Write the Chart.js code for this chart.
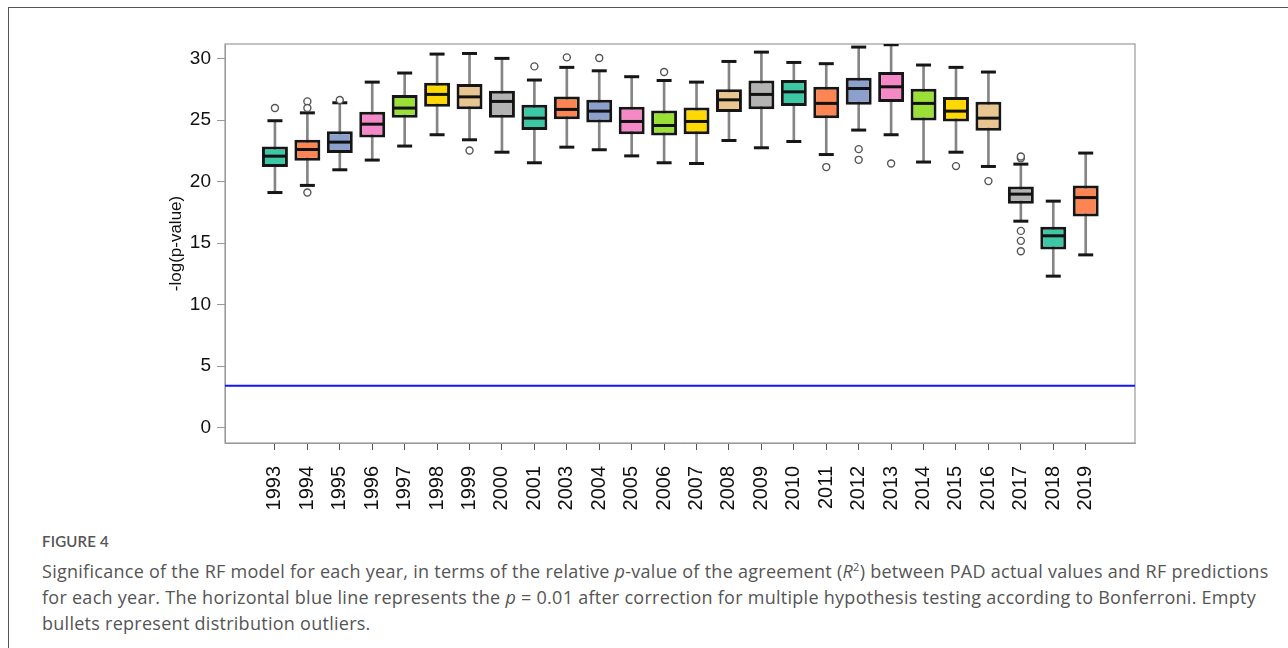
<!DOCTYPE html>
<html>
<head>
<meta charset="utf-8">
<script src="https://cdn.jsdelivr.net/npm/chart.js@4.4.1/dist/chart.umd.min.js"></script>
<style>
  body { margin: 0; background: #fff; width: 1288px; height: 648px; overflow: hidden; position: relative; }
  #frame { position: absolute; left: 8px; top: 7px; width: 1400px; height: 700px; border: 1px solid #555; }
  #wrap { position: absolute; left: 0; top: 0; width: 1288px; height: 530px; }
  .fig { position: absolute; left: 42px; top: 532px; font: 600 15px Lato, sans-serif; color: #555; letter-spacing: 0.2px; }
  .cap { position: absolute; left: 42px; top: 554px; font: 18px/26px 'Open Sans', sans-serif; color: #555; white-space: nowrap; letter-spacing: 0.27px; }
</style>
</head>
<body>
<div id="frame"></div>
<div id="wrap"><canvas id="boxChart"></canvas></div>
<div class="fig">FIGURE 4</div>
<div class="cap">Significance of the RF model for each year, in terms of the relative <i>p</i>-value of the agreement (<i>R</i><sup style="font-size:11px">2</sup>) between PAD actual values and RF predictions<br>for each year. The horizontal blue line represents the <i>p</i> = 0.01 after correction for multiple hypothesis testing according to Bonferroni. Empty<br>bullets represent distribution outliers.</div>
<script>
const years = ["1993", "1994", "1995", "1996", "1997", "1998", "1999", "2000", "2001", "2003", "2004", "2005", "2006",
    "2007", "2008", "2009", "2010", "2011", "2012", "2013", "2014", "2015", "2016", "2017", "2018", "2019"];
const whiskerLow = [19.12, 19.7, 20.97, 21.76, 22.9, 23.82, 23.41, 22.4, 21.54, 22.81, 22.6, 22.1, 21.54,
    21.48, 23.35, 22.76, 23.27, 22.21, 24.2, 23.82, 21.6, 22.4, 21.24, 16.79, 12.32, 14.05];
const q1 = [21.19, 21.7, 22.33, 23.6, 25.2, 26.1, 25.9, 25.2, 24.2, 25.09, 24.82, 23.87, 23.76,
    23.87, 25.66, 25.9, 26.15, 25.17, 26.26, 26.48, 24.98, 24.9, 24.14, 18.2, 14.48, 17.17];
const median = [22.08, 22.62, 23.22, 24.68, 25.99, 27.1, 26.9, 26.53, 25.17, 25.88, 25.74, 24.9, 24.57,
    24.9, 26.66, 27.1, 27.31, 26.37, 27.58, 27.72, 26.37, 25.74, 25.17, 18.99, 15.6, 18.71];
const q3 = [22.86, 23.41, 24.11, 25.69, 27.05, 28.05, 27.94, 27.4, 26.26, 26.94, 26.66, 26.1, 25.79,
    26.04, 27.53, 28.23, 28.27, 27.72, 28.45, 28.92, 27.56, 26.88, 26.5, 19.61, 16.33, 19.69];
const whiskerHigh = [24.96, 25.6, 26.42, 28.1, 28.84, 30.38, 30.43, 30.03, 28.27, 29.3, 29.02, 28.54, 28.23,
    28.1, 29.78, 30.54, 29.7, 29.6, 30.95, 31.14, 29.49, 29.3, 28.92, 21.43, 18.42, 22.33];
const outlierYears = ["1993", "1994", "1994", "1994", "1995", "1999", "2001", "2003", "2004", "2006", "2011",
    "2012", "2012", "2013", "2015", "2016", "2017", "2017", "2017", "2017", "2017"];
const outlierValues = [26.0, 26.53, 25.99, 19.12, 26.64, 22.54, 29.38, 30.11, 30.06, 28.92, 21.19,
    22.65, 21.78, 21.48, 21.27, 20.05, 21.9, 22.05, 16.0, 15.19, 14.35];
const threshold = 3.41;
const yTicks = [0, 5, 10, 15, 20, 25, 30];
const palette = ["#3cc8a4", "#fd8453", "#8ba0cd", "#f589c8", "#9ae037", "#ffd800", "#e9c690", "#b3b3b3"];

const X_MIN = -1.54, X_MAX = 26.52;
const Y_MIN = -1.25, Y_MAX = 31.2;
const axisFont = "'Liberation Sans', Arial, sans-serif";

const plotFrame = {
    id: "plotFrame",
    beforeDatasetsDraw(chart) {
        const a = chart.chartArea;
        const c = chart.ctx;
        c.save();
        c.strokeStyle = "#9a9a9a";
        c.lineWidth = 1.2;
        c.strokeRect(a.left, a.top, a.right - a.left, a.bottom - a.top);
        c.restore();
    }
};

document.addEventListener("DOMContentLoaded", function () {
    const area = document.getElementById("boxChart");
    const idx = years.map((_, i) => i);
    const capPoints = [];
    idx.forEach(i => {
        capPoints.push({ x: i, y: whiskerLow[i] });
        capPoints.push({ x: i, y: whiskerHigh[i] });
    });

    new Chart(area.getContext("2d"), {
        type: "bar",
        data: {
            datasets: [
                {
                    label: "whisker",
                    data: idx.map(i => ({ x: i, y: [whiskerLow[i], whiskerHigh[i]] })),
                    backgroundColor: "#858585",
                    barThickness: 2,
                    grouped: false,
                    order: 4,
                },
                {
                    label: "box",
                    data: idx.map(i => ({ x: i, y: [q1[i], q3[i]] })),
                    backgroundColor: idx.map(i => palette[i % palette.length]),
                    borderColor: "#161616",
                    borderWidth: 3,
                    borderSkipped: false,
                    categoryPercentage: 0.8,
                    barPercentage: 1,
                    grouped: false,
                    order: 3,
                },
                {
                    type: "line",
                    label: "caps",
                    data: capPoints,
                    showLine: false,
                    pointStyle: "line",
                    pointRadius: 7.5,
                    pointBorderWidth: 3,
                    pointBorderColor: "#161616",
                    order: 2,
                },
                {
                    type: "line",
                    label: "median",
                    data: idx.map(i => ({ x: i, y: median[i] })),
                    showLine: false,
                    pointStyle: "line",
                    pointRadius: 11.5,
                    pointBorderWidth: 3,
                    pointBorderColor: "#111",
                    order: 1,
                },
                {
                    type: "line",
                    label: "outliers",
                    data: outlierYears.map((y, k) => ({ x: years.indexOf(y), y: outlierValues[k] })),
                    showLine: false,
                    pointStyle: "circle",
                    pointRadius: 3.5,
                    pointBorderWidth: 1.4,
                    pointBorderColor: "#555",
                    pointBackgroundColor: "#fff",
                    order: 0,
                },
                {
                    type: "line",
                    label: "Bonferroni p = 0.01",
                    data: [{ x: X_MIN, y: threshold }, { x: X_MAX, y: threshold }],
                    borderColor: "#1414ff",
                    borderWidth: 2,
                    pointRadius: 0,
                    order: 5,
                },
            ],
        },
        options: {
            responsive: true,
            maintainAspectRatio: false,
            animation: false,
            events: [],
            layout: { padding: { left: 162, top: 44, right: 153, bottom: 0 } },
            plugins: { legend: { display: false }, tooltip: { enabled: false } },
            scales: {
                x: {
                    type: "linear",
                    min: X_MIN,
                    max: X_MAX,
                    offset: false,
                    afterBuildTicks: s => { s.ticks = idx.map(i => ({ value: i })); },
                    afterFit: s => { s.height = 87; },
                    grid: { drawOnChartArea: false, offset: false, tickLength: 7, color: "#555" },
                    border: { color: "#9a9a9a" },
                    ticks: {
                        autoSkip: false,
                        minRotation: 90,
                        maxRotation: 90,
                        padding: 16,
                        color: "#111",
                        font: { family: axisFont, size: 20 },
                        callback: v => years[v],
                    },
                },
                y: {
                    min: Y_MIN,
                    max: Y_MAX,
                    afterBuildTicks: s => { s.ticks = yTicks.map(v => ({ value: v })); },
                    afterFit: s => { s.width = 63; },
                    grid: { drawOnChartArea: false, tickLength: 8, color: "#999" },
                    border: { color: "#9a9a9a" },
                    ticks: { padding: 6, color: "#111", font: { family: axisFont, size: 19 } },
                    title: {
                        display: true,
                        text: "-log(p-value)",
                        color: "#111",
                        font: { family: axisFont, size: 17 },
                        padding: { top: 4, bottom: 4 },
                    },
                },
            },
        },
        plugins: [plotFrame],
    });
});
</script>
</body>
</html>
